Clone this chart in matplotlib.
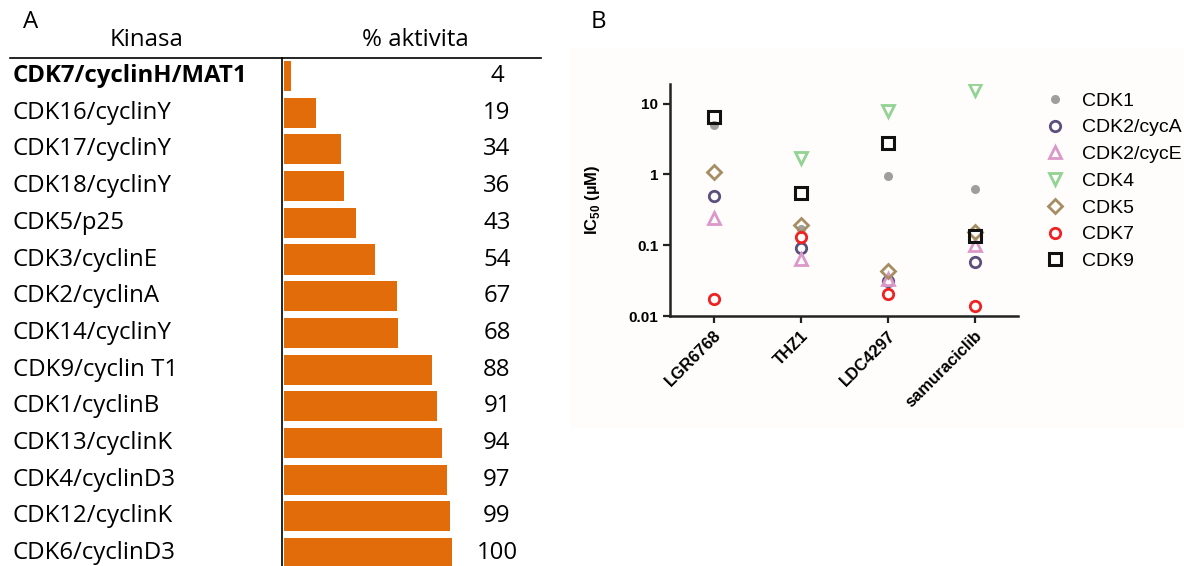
import numpy as np
import matplotlib
matplotlib.use("Agg")
import matplotlib.pyplot as plt
from matplotlib.lines import Line2D
from matplotlib.patches import Rectangle
import matplotlib.transforms as mtransforms

# panel A data
kinases = ["CDK7/cyclinH/MAT1", "CDK16/cyclinY", "CDK17/cyclinY", "CDK18/cyclinY",
           "CDK5/p25", "CDK3/cyclinE", "CDK2/cyclinA", "CDK14/cyclinY",
           "CDK9/cyclin T1", "CDK1/cyclinB", "CDK13/cyclinK", "CDK4/cyclinD3",
           "CDK12/cyclinK", "CDK6/cyclinD3"]
activity = [4, 19, 34, 36, 43, 54, 67, 68, 88, 91, 94, 97, 99, 100]

# panel B data (IC50, uM)
drugs = ["LGR6768", "THZ1", "LDC4297", "samuraciclib"]
cdk1 = [5.0, 0.17, 0.95, 0.63]
cdk2a = [0.49, 0.092, 0.031, 0.058]
cdk2e = [0.245, 0.063, 0.033, 0.102]
cdk4 = [np.nan, 1.7, 8.0, 15.8]
cdk5 = [1.1, 0.195, 0.043, 0.155]
cdk7 = [0.0175, 0.13, 0.0205, 0.0137]
cdk9 = [6.5, 0.55, 2.8, 0.133]

plt.rcParams["mathtext.fontset"] = "custom"
plt.rcParams["mathtext.rm"] = "Liberation Sans"
plt.rcParams["mathtext.bf"] = "Liberation Sans:bold"

W, H = 1184, 566
fig = plt.figure(figsize=(W / 100, H / 100), dpi=100)


def fx(x):
    return x / W


def fy(y):
    return 1 - y / H


font_a = ["Open Sans", "DejaVu Sans"]
font_b = ["Liberation Sans", "DejaVu Sans"]
fs_a = 17.3

# ---------------- panel A ----------------
row0, step = 76, 36.7
bottom_row = (H - row0) / step
top_row = -0.5
ax_a = fig.add_axes([fx(284), 0, fx(452) - fx(284), fy(row0 + top_row * step)])
ax_a.barh(range(len(kinases)), activity, height=0.82, color="#e36c0a")
ax_a.set_xlim(0, 100)
ax_a.set_ylim(bottom_row, top_row)
ax_a.axis("off")

tr = mtransforms.blended_transform_factory(fig.transFigure, ax_a.transData)
for i, (name, val) in enumerate(zip(kinases, activity)):
    ax_a.text(fx(13), i, name, transform=tr, ha="left", va="center",
              fontsize=fs_a, family=font_a,
              fontweight="bold" if i == 0 else "normal")
    ax_a.text(fx(497), i, str(val), transform=tr, ha="center", va="center",
              fontsize=fs_a, family=font_a)

fig.text(fx(147), fy(40), "Kinasa", ha="center", va="center", fontsize=fs_a, family=font_a)
fig.text(fx(415), fy(40), "% aktivita", ha="center", va="center", fontsize=fs_a, family=font_a)
fig.text(fx(31), fy(22), "A", ha="center", va="center", fontsize=fs_a, family=font_a)
fig.text(fx(598), fy(22), "B", ha="center", va="center", fontsize=fs_a, family=font_a)

fig.add_artist(Line2D([fx(10), fx(541)], [fy(58), fy(58)], color="black", lw=1.2))
fig.add_artist(Line2D([fx(282), fx(282)], [fy(58), fy(566)], color="black", lw=1.2))

# ---------------- panel B ----------------
fig.add_artist(Rectangle((fx(570), fy(428)), fx(1184) - fx(570), fy(48) - fy(428),
                         transform=fig.transFigure, facecolor="#fefdfc",
                         edgecolor="none", zorder=0))

ax_b = fig.add_axes([fx(670), fy(316), fx(1018) - fx(670), fy(84) - fy(316)])
ax_b.patch.set_alpha(0)
x = np.arange(len(drugs))

series = [
    ("CDK1", cdk1, dict(marker="o", color="#9e9e9e", ms=6.5, mfc="#9e9e9e", mew=0)),
    ("CDK2/cycA", cdk2a, dict(marker="o", color="#5b4f7d", ms=7.5, mfc="none", mew=2.0)),
    ("CDK2/cycE", cdk2e, dict(marker="^", color="#dc98c8", ms=8, mfc="none", mew=2.0)),
    ("CDK4", cdk4, dict(marker="v", color="#93d393", ms=8, mfc="none", mew=2.0)),
    ("CDK5", cdk5, dict(marker="D", color="#a68d62", ms=7, mfc="none", mew=2.0)),
    ("CDK7", cdk7, dict(marker="o", color="#ee2222", ms=7.5, mfc="none", mew=2.0)),
    ("CDK9", cdk9, dict(marker="s", color="#111111", ms=8, mfc="none", mew=2.2)),
]
for label, vals, style in series:
    ax_b.plot(x, vals, linestyle="none", label=label, **style)

ax_b.set_yscale("log")
ax_b.set_ylim(0.01, 19)
ax_b.set_xlim(-0.5, 3.5)
ax_b.set_yticks([0.01, 0.1, 1, 10])
ax_b.set_yticklabels(["0.01", "0.1", "1", "10"])
ax_b.yaxis.set_minor_locator(matplotlib.ticker.NullLocator())
ax_b.set_xticks(x)
ax_b.set_xticklabels(drugs, rotation=45, ha="right", rotation_mode="anchor")
for lab in ax_b.get_xticklabels():
    lab.set_fontweight("bold")
    lab.set_fontsize(12)
    lab.set_family(font_b)
for lab in ax_b.get_yticklabels():
    lab.set_fontweight("bold")
    lab.set_fontsize(11)
    lab.set_family(font_b)
ax_b.tick_params(width=1.6, length=5, color="#222222")
for s in ["top", "right"]:
    ax_b.spines[s].set_visible(False)
for s in ["left", "bottom"]:
    ax_b.spines[s].set_linewidth(1.8)
    ax_b.spines[s].set_color("#222222")

ax_b.set_ylabel(r"IC$_{\mathbf{50}}$ (µM)", fontsize=12, fontweight="bold", family=font_b)
ax_b.yaxis.set_label_coords((602 - 670) / 348, 0.5)

fig.legend(loc="upper left", bbox_to_anchor=(fx(1043), fy(92)), frameon=False,
           prop={"family": font_b, "size": 14}, handletextpad=0.8,
           labelspacing=0.47, borderaxespad=0, handlelength=1.2, borderpad=0)

fig.savefig("out.png", dpi=100)
